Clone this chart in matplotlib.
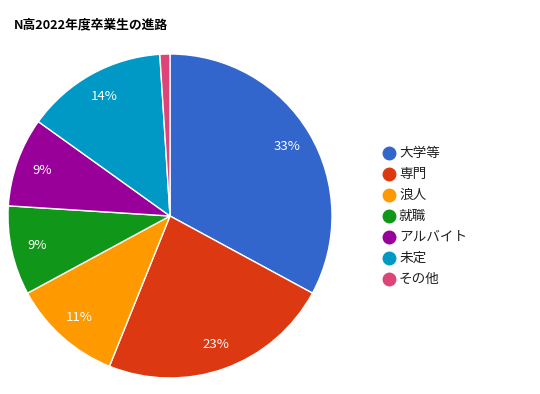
import matplotlib
matplotlib.use('Agg')
import matplotlib.pyplot as plt
from matplotlib.lines import Line2D

plt.rcParams['font.family'] = ['Noto Sans CJK JP', 'DejaVu Sans']

title = 'N高2022年度卒業生の進路'
categories = ['大学等', '専門', '浪人', '就職', 'アルバイト', '未定', 'その他']
shares = [32.9, 23.2, 11.0, 8.9, 8.9, 14.1, 1.0]
colors = ['#3366cc', '#dc3912', '#ff9900', '#109618', '#990099', '#0099c6', '#dd4477']

W, H = 540, 394
fig = plt.figure(figsize=(W / 100, H / 100), dpi=100)

# pie centre (170, 216) px, radius 162 px
cx, cy, r = 170, 216, 162
ax = fig.add_axes([(cx - r) / W, (H - cy - r) / H, 2 * r / W, 2 * r / H])


def pct(p):
    return f'{p:.0f}%' if p >= 5 else ''


wedges, texts, autotexts = ax.pie(
    shares, colors=colors, startangle=90, counterclock=False,
    autopct=pct, pctdistance=0.84,
    wedgeprops=dict(edgecolor='white', linewidth=1),
    textprops=dict(color='white', fontsize=9.5))
ax.set_xlim(-1, 1)
ax.set_ylim(-1, 1)
ax.set_aspect('equal')
ax.axis('off')

fig.text(14 / W, 1 - 25 / H, title, fontsize=9.2, fontweight='bold',
         va='center', ha='left', color='#000000')

# legend
for i, (lab, col) in enumerate(zip(categories, colors)):
    y = 1 - (153 + 21 * i) / H
    fig.add_artist(Line2D([389 / W], [y], transform=fig.transFigure,
                          marker='o', markersize=9, color=col, linestyle='none'))
    fig.text(399 / W, y, lab, fontsize=9.8, va='center', ha='left', color='#222222')

fig.savefig('out.png', dpi=100)
